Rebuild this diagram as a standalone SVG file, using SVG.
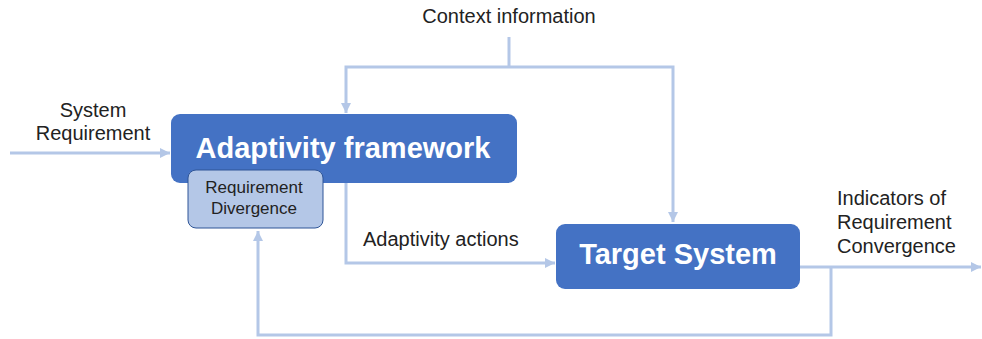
<svg xmlns="http://www.w3.org/2000/svg" width="982" height="339" viewBox="0 0 982 339">
<defs>
<style>
.c{fill:none;stroke:#B4C7E7;stroke-width:3}
.lbl{font-family:"Liberation Sans",Arial,sans-serif;font-size:20px;fill:#222}
.big{font-family:"Liberation Sans",Arial,sans-serif;font-size:29px;font-weight:bold;fill:#fff;text-anchor:middle}
.small{font-family:"Liberation Sans",Arial,sans-serif;font-size:17px;fill:#222;text-anchor:middle}
.node{fill:#4472C4}
</style>
<marker id="ah" markerUnits="userSpaceOnUse" markerWidth="12" markerHeight="12" viewBox="0 0 12 12" refX="11" refY="6" orient="auto">
<path d="M1,1 L11,6 L1,11 Z" fill="#B4C7E7"/>
</marker>
</defs>
<g id="connectors">
<path class="c" d="M10,153 H170" marker-end="url(#ah)"/>
<path class="c" d="M509,37 V67"/>
<path class="c" d="M509,67 H346 V113" marker-end="url(#ah)"/>
<path class="c" d="M509,67 H673 V222" marker-end="url(#ah)"/>
<path class="c" d="M346,183 V263 H555" marker-end="url(#ah)"/>
<path class="c" d="M800,267 H981" marker-end="url(#ah)"/>
<path class="c" d="M831,267 V335 H258 V231" marker-end="url(#ah)"/>
</g>
<g id="adaptivity-framework">
<rect class="node" x="171" y="114" width="346" height="69" rx="9"/>
<text class="big" x="343" y="158">Adaptivity framework</text>
</g>
<g id="requirement-divergence">
<rect x="188" y="170" width="135" height="58" rx="8" fill="#B4C7E7" stroke="#2F5597" stroke-width="1"/>
<text class="small" x="254" y="193">Requirement</text>
<text class="small" x="254" y="214">Divergence</text>
</g>
<g id="target-system">
<rect class="node" x="556" y="224" width="244" height="65" rx="9"/>
<text class="big" x="678" y="264">Target System</text>
</g>
<g id="labels">
<text class="lbl" x="509" y="23" text-anchor="middle">Context information</text>
<text class="lbl" x="93" y="117" text-anchor="middle">System</text>
<text class="lbl" x="93" y="140" text-anchor="middle">Requirement</text>
<text class="lbl" x="363" y="246">Adaptivity actions</text>
<text class="lbl" x="837" y="205">Indicators of</text>
<text class="lbl" x="837" y="229">Requirement</text>
<text class="lbl" x="837" y="253">Convergence</text>
</g>
</svg>
